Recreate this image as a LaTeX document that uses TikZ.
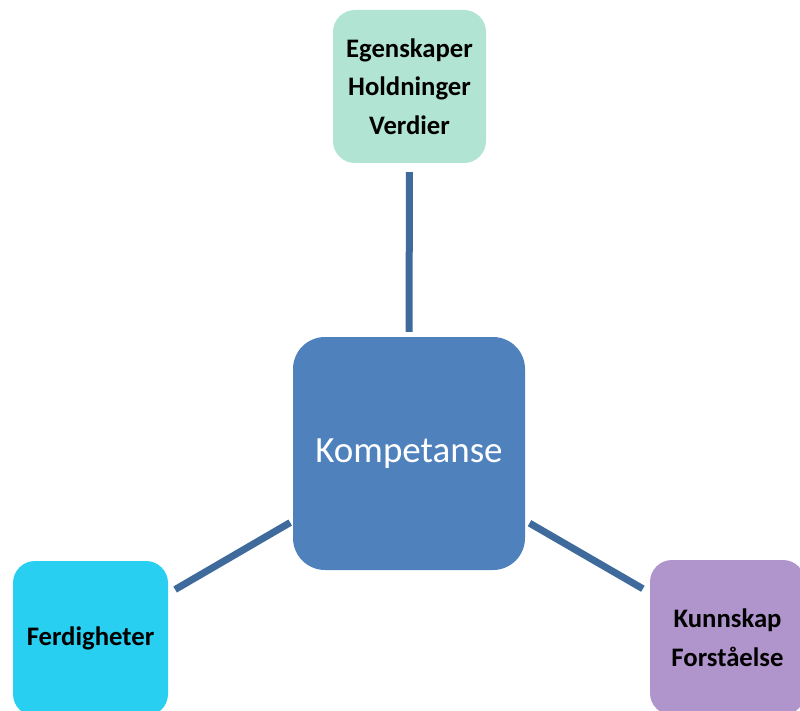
\documentclass[tikz,border=0pt]{standalone}
\usepackage{fontspec}
\setmainfont{Carlito}
\definecolor{mint}{HTML}{B1E4D3}
\definecolor{cyanbox}{HTML}{29CFF0}
\definecolor{violetbox}{HTML}{B094CC}
\definecolor{centerblue}{HTML}{4F81BD}
\definecolor{linkblue}{HTML}{3F6A9C}
\tikzset{
  outerbox/.style={rectangle, rounded corners=22pt, minimum width=155pt, minimum height=155pt, inner sep=0pt, align=center, text=black, font=\fontsize{26.7}{38.5}\selectfont\bfseries},
  corebox/.style={rectangle, rounded corners=32pt, fill=centerblue, minimum width=232pt, minimum height=233pt, inner sep=0pt, text=white, font=\fontsize{37}{44}\selectfont},
  link/.style={draw=linkblue, line width=7pt}
}
\begin{document}
\begin{tikzpicture}[x=1pt,y=-1pt]
\useasboundingbox (0,0) rectangle (800,711);
\clip (0,0) rectangle (800,711);
\node[corebox] (c) at (409,453.5) {Kompetanse};
\node[outerbox, fill=mint, minimum width=153pt, minimum height=153pt] (t) at (409.5,86.5) {Egenskaper\\Holdninger\\Verdier};
\node[outerbox, fill=cyanbox] (l) at (90.5,638.5) {Ferdigheter};
\node[outerbox, fill=violetbox] (r) at (727.5,637.5) {Kunnskap\\Forståelse};
\draw[link, shorten <=5pt, shorten >=9pt] (c.north) -- (t.south);
\draw[link, shorten <=3pt, shorten >=8pt] (c) -- (l);
\draw[link, shorten <=5pt, shorten >=8pt] (c) -- (r);
\end{tikzpicture}
\end{document}
